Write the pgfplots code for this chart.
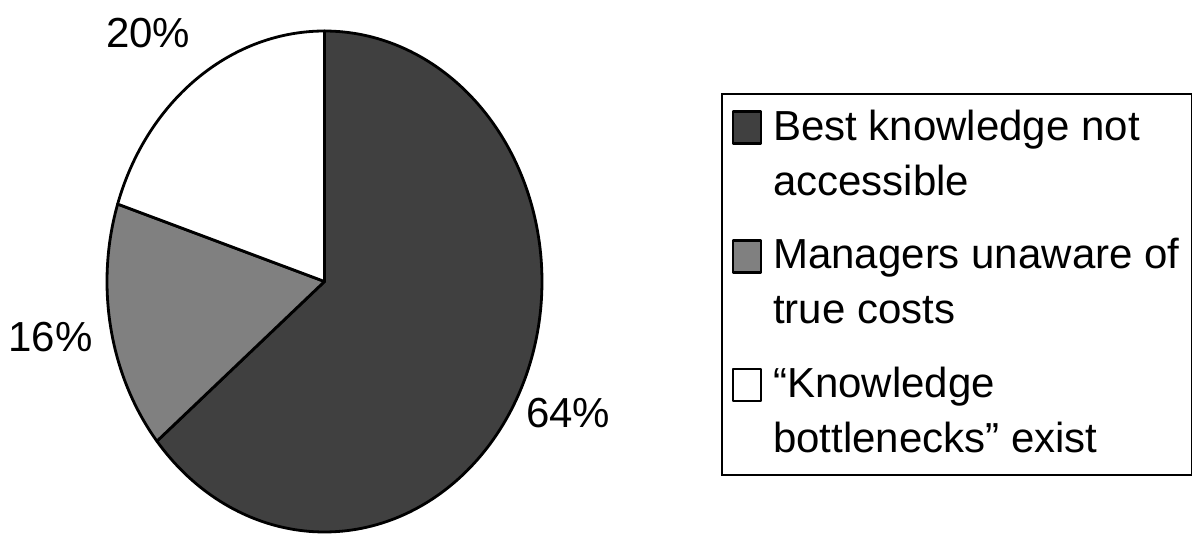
\documentclass[border=0pt]{standalone}
\usepackage{fontspec}
\setmainfont{Liberation Sans}
\usepackage{pgfplots}
\usepackage{pgfplotstable}
\pgfplotsset{compat=1.18}
\definecolor{sliceA}{RGB}{64,64,64}
\definecolor{sliceB}{RGB}{128,128,128}
\definecolor{sliceC}{RGB}{255,255,255}

\pgfplotstableread{
label value
A 64
B 16
C 20
}\piedata
\pgfplotstablegetelem{0}{value}\of\piedata \let\va\pgfplotsretval
\pgfplotstablegetelem{1}{value}\of\piedata \let\vb\pgfplotsretval
\pgfplotstablegetelem{2}{value}\of\piedata \let\vc\pgfplotsretval
\pgfmathsetmacro\aA{90-3.6*\va}
\pgfmathsetmacro\aB{\aA-3.6*\vb}
\pgfmathsetmacro\aC{\aB-3.6*\vc}

\begin{document}
\fontsize{42}{55}\selectfont
\begin{tikzpicture}
\useasboundingbox (0pt,0pt) rectangle (1196pt,538pt);
\begin{axis}[
  hide axis, scale only axis,
  width=435pt, height=501pt,
  xmin=-1, xmax=1, ymin=-1, ymax=1,
  at={(324.5pt,256.5pt)}, anchor=center,
  clip=false,
  samples=180,
  legend cell align=left,
  legend image code/.code={\draw[#1, line width=2.5pt] (0pt,12pt) rectangle (28pt,44pt);},
  legend style={
    at={(1.4115,0.8762)}, anchor=north west,
    draw=black, line width=1.5pt,
    font=\fontsize{42}{55}\selectfont,
    cells={align=left},
    inner xsep=10pt, inner ysep=14pt,
    row sep=33pt,
    /tikz/every odd column/.append style={column sep=9pt},
  },
]
\addplot[fill=sliceA, draw=black, line width=2.8pt, line join=round, domain=\aA:90]
  ({cos(x)},{sin(x)}) -- (0,0) -- cycle;
\addlegendentry{Best knowledge not\\accessible}
\addplot[fill=sliceB, draw=black, line width=2.8pt, line join=round, domain=\aB:\aA]
  ({cos(x)},{sin(x)}) -- (0,0) -- cycle;
\addlegendentry{Managers unaware of\\true costs}
\addplot[fill=sliceC, draw=black, line width=2.8pt, line join=round, domain=\aC:\aB]
  ({cos(x)},{sin(x)}) -- (0,0) -- cycle;
\addlegendentry{“Knowledge\\bottlenecks” exist}
\node at (axis cs:-0.81,0.99) {20\%};
\node at (axis cs:-1.26,-0.22) {16\%};
\node at (axis cs:1.12,-0.525) {64\%};
\end{axis}
\end{tikzpicture}
\end{document}
